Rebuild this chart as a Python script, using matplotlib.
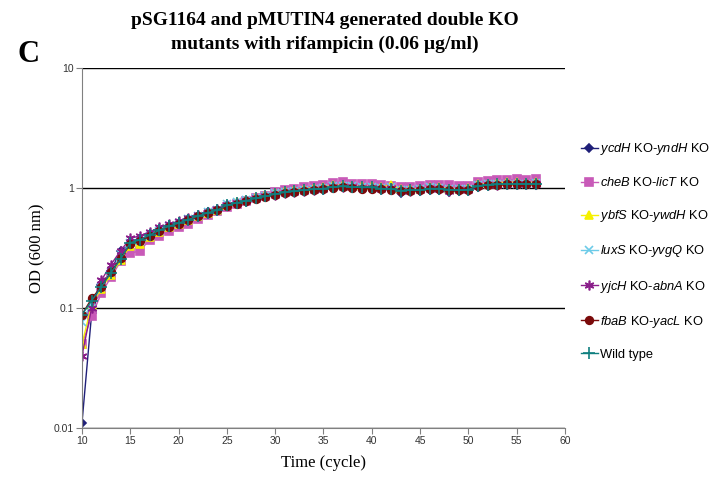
import matplotlib.pyplot as plt
import numpy as np

plt.rcParams['font.family'] = 'Liberation Sans'
plt.rcParams['mathtext.fontset'] = 'custom'
plt.rcParams['mathtext.it'] = 'Liberation Sans:italic'
plt.rcParams['mathtext.rm'] = 'Liberation Sans'

cycles = list(range(10, 58))

ycdH = [0.011, 0.09, 0.155, 0.205, 0.3, 0.34, 0.37, 0.41, 0.45, 0.485,
        0.515, 0.55, 0.59, 0.625, 0.66, 0.72, 0.75, 0.78, 0.82, 0.85,
        0.88, 0.91, 0.93, 0.95, 0.97, 0.99, 1.01, 1.02, 1.01, 1.0,
        0.99, 0.98, 0.96, 0.91, 0.94, 0.94, 0.97, 0.97, 0.93, 0.95,
        0.96, 1.02, 1.05, 1.06, 1.07, 1.07, 1.07, 1.06]
cheB = [0.05, 0.085, 0.133, 0.18, 0.245, 0.285, 0.30, 0.37, 0.40, 0.44,
        0.47, 0.50, 0.55, 0.60, 0.64, 0.70, 0.74, 0.78, 0.82, 0.86,
        0.92, 0.96, 0.98, 1.02, 1.04, 1.06, 1.11, 1.12, 1.09, 1.08,
        1.08, 1.06, 1.04, 1.02, 1.02, 1.04, 1.06, 1.06, 1.05, 1.04,
        1.03, 1.12, 1.14, 1.16, 1.17, 1.18, 1.16, 1.18]
ybfS = [0.05, 0.106, 0.145, 0.19, 0.25, 0.33, 0.34, 0.39, 0.43, 0.47,
        0.5, 0.54, 0.58, 0.62, 0.66, 0.72, 0.76, 0.79, 0.84, 0.87,
        0.91, 0.94, 0.96, 0.99, 1.0, 1.02, 1.05, 1.06, 1.04, 1.03,
        1.03, 1.02, 1.06, 0.98, 0.98, 0.99, 1.01, 1.01, 0.99, 0.99,
        1.0, 1.07, 1.09, 1.11, 1.12, 1.12, 1.11, 1.12]
luxS = [0.077, 0.11, 0.15, 0.2, 0.28, 0.35, 0.36, 0.4, 0.44, 0.48,
        0.51, 0.55, 0.59, 0.63, 0.66, 0.73, 0.76, 0.79, 0.83, 0.86,
        0.9, 0.93, 0.95, 0.97, 0.99, 1.0, 1.03, 1.04, 1.03, 1.02,
        1.02, 1.0, 1.02, 0.96, 0.97, 0.98, 1.02, 1.0, 0.98, 0.98,
        0.99, 1.06, 1.07, 1.08, 1.09, 1.09, 1.09, 1.1]
yjcH = [0.04, 0.1, 0.17, 0.23, 0.3, 0.38, 0.4, 0.43, 0.47, 0.5,
        0.53, 0.56, 0.6, 0.63, 0.67, 0.72, 0.75, 0.78, 0.82, 0.85,
        0.88, 0.91, 0.93, 0.95, 0.97, 0.99, 1.01, 1.02, 1.01, 1.0,
        1.0, 0.99, 1.0, 0.94, 0.95, 0.96, 0.99, 0.98, 0.95, 0.96,
        0.97, 1.03, 1.05, 1.06, 1.07, 1.07, 1.07, 1.07]
fbaB = [0.088, 0.12, 0.15, 0.2, 0.26, 0.34, 0.36, 0.4, 0.44, 0.475,
        0.505, 0.54, 0.58, 0.62, 0.65, 0.71, 0.74, 0.78, 0.81, 0.84,
        0.88, 0.91, 0.93, 0.95, 0.97, 0.98, 1.0, 1.01, 1.0, 0.99,
        0.99, 0.98, 0.97, 0.95, 0.95, 0.96, 0.98, 0.98, 0.96, 0.96,
        0.97, 1.03, 1.05, 1.06, 1.07, 1.07, 1.07, 1.07]
wild = [0.088, 0.115, 0.15, 0.197, 0.255, 0.35, 0.37, 0.405, 0.445, 0.48,
        0.51, 0.545, 0.585, 0.62, 0.655, 0.72, 0.75, 0.785, 0.82, 0.85,
        0.89, 0.92, 0.94, 0.96, 0.975, 0.99, 1.02, 1.03, 1.02, 1.01,
        1.01, 0.99, 0.98, 0.95, 0.96, 0.96, 0.99, 0.99, 0.97, 0.96,
        0.97, 1.04, 1.06, 1.07, 1.08, 1.08, 1.08, 1.08]

labels = [r'$\it{ycdH}$ KO-$\it{yndH}$ KO',
          r'$\it{cheB}$ KO-$\it{licT}$ KO',
          r'$\it{ybfS}$ KO-$\it{ywdH}$ KO',
          r'$\it{luxS}$ KO-$\it{yvgQ}$ KO',
          r'$\it{yjcH}$ KO-$\it{abnA}$ KO',
          r'$\it{fbaB}$ KO-$\it{yacL}$ KO',
          'Wild type']

fig = plt.figure(figsize=(7.16, 4.79), dpi=100)
ax = fig.add_axes([0.1145, 0.1065, 0.6745, 0.7515])

# (data, colour, marker, size)
styles = [(ycdH, '#1f1f78', 'D', 4),
          (cheB, '#c85ab8', 's', 5.5),
          (ybfS, '#f5f000', '^', 6),
          (luxS, '#6ccbe8', 'x', 6),
          (yjcH, '#8a1e8a', (6, 2, 0), 7),
          (fbaB, '#7a0a0a', 'o', 5.5),
          (wild, '#0f7f7f', '+', 8)]

for (vals, col, mk, ms), lab in zip(styles, labels):
    ax.plot(cycles, vals, color=col, marker=mk, markersize=ms, lw=1,
            markeredgewidth=1.2, label=lab, zorder=3)

ax.set_yscale('log')
ax.set_ylim(0.01, 10)
ax.set_xlim(10, 60)
ax.set_xticks(np.arange(10, 61, 5))
ax.set_yticks([0.01, 0.1, 1, 10])
ax.set_yticklabels(['0.01', '0.1', '1', '10'])
ax.minorticks_off()
ax.yaxis.grid(True, color='black', lw=1)
ax.set_axisbelow(True)
for s in ['top', 'right']:
    ax.spines[s].set_visible(False)
for s in ['left', 'bottom']:
    ax.spines[s].set_color('#808080')
    ax.spines[s].set_zorder(4)
ax.tick_params(axis='both', labelsize=7.5, colors='#333333', length=4,
               width=0.8, pad=2)
ax.tick_params(axis='both', color='#808080')

ax.set_xlabel('Time (cycle)', family='Liberation Serif', fontsize=12, labelpad=6)
ax.set_ylabel('OD (600 nm)', family='Liberation Serif', fontsize=12, labelpad=6)

fig.text(0.454, 0.975, 'pSG1164 and pMUTIN4 generated double KO\n'
         'mutants with rifampicin (0.06 \u00b5g/ml)',
         family='Liberation Serif', fontweight='bold', fontsize=14,
         ha='center', va='top', linespacing=1.5)
fig.text(0.025, 0.855, 'C', family='Liberation Serif', fontweight='bold',
         fontsize=22, ha='left', va='bottom')

ax.legend(loc='upper left', bbox_to_anchor=(1.02, 0.815), frameon=False,
          fontsize=9.3, handlelength=1.3, handletextpad=0.2,
          labelspacing=1.48, borderpad=0)

plt.savefig('out.png', dpi=100)
